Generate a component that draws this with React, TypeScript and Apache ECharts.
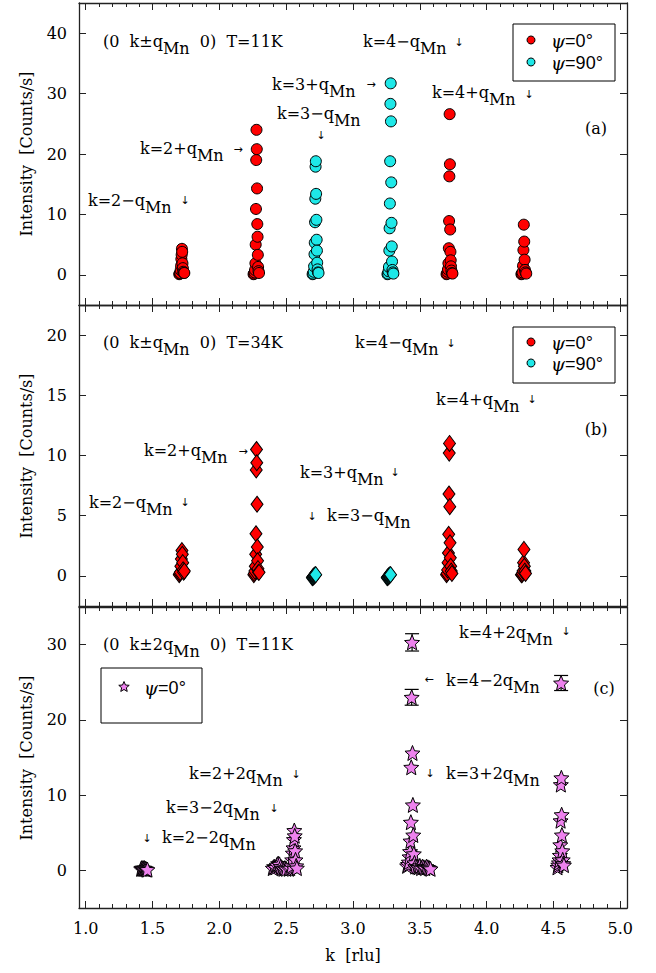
import React, { useEffect, useRef } from "react";
import * as echarts from "echarts";

// ---------- axes ----------
const kRange = [0.95, 5.05];
const xMajorTicks = [1.0, 1.5, 2.0, 2.5, 3.0, 3.5, 4.0, 4.5, 5.0];
const xMinorTicks = [
  1.1, 1.2, 1.3, 1.4, 1.6, 1.7, 1.8, 1.9, 2.1, 2.2, 2.3, 2.4, 2.6, 2.7, 2.8, 2.9,
  3.1, 3.2, 3.3, 3.4, 3.6, 3.7, 3.8, 3.9, 4.1, 4.2, 4.3, 4.4, 4.6, 4.7, 4.8, 4.9,
];
const yTicksA = [0, 10, 20, 30, 40];
const yTicksB = [0, 5, 10, 15, 20];
const yTicksC = [0, 10, 20, 30];
const yRangeA = [-5, 45];
const yRangeB = [-2.5, 22.5];
const yRangeC = [-5, 35];

// ---------- (a) (0 k±qMn 0) T=11K : [k, intensity] ----------
const a_psi0_2mq = [[1.700, 0.1], [1.704, 0.2], [1.708, 0.3], [1.711, 0.8], [1.714, 1.5], [1.716, 2.6], [1.718, 3.3], [1.720, 4.3], [1.722, 3.8], [1.724, 1.9], [1.727, 1.1], [1.730, 0.5], [1.734, 0.3], [1.738, 0.3]];
const a_psi0_2pq = [[2.256, 0.1], [2.260, 0.2], [2.264, 0.4], [2.267, 0.8], [2.270, 1.9], [2.272, 5.0], [2.274, 10.9], [2.276, 19.0], [2.278, 24.0], [2.280, 20.8], [2.282, 14.3], [2.284, 8.4], [2.286, 6.3], [2.288, 3.3], [2.290, 1.3], [2.293, 0.6], [2.297, 0.3]];
const a_psi90_3mq = [[2.698, 0.1], [2.702, 0.2], [2.706, 0.5], [2.709, 1.4], [2.712, 3.4], [2.714, 5.3], [2.716, 8.7], [2.718, 12.6], [2.720, 17.9], [2.722, 18.8], [2.724, 13.4], [2.726, 9.1], [2.728, 5.8], [2.730, 4.0], [2.732, 2.0], [2.735, 0.9], [2.738, 0.4], [2.742, 0.3]];
const a_psi90_3pq = [[3.258, 0.1], [3.262, 0.2], [3.266, 0.6], [3.269, 1.3], [3.272, 4.0], [3.274, 7.7], [3.276, 11.8], [3.278, 18.8], [3.280, 28.3], [3.282, 31.7], [3.284, 25.4], [3.286, 15.3], [3.288, 8.6], [3.290, 4.7], [3.292, 2.2], [3.295, 0.8], [3.298, 0.4], [3.302, 0.2]];
const a_psi0_4mq = [[3.700, 0.1], [3.704, 0.2], [3.708, 0.5], [3.711, 0.9], [3.714, 1.9], [3.717, 4.4], [3.719, 8.9], [3.721, 16.3], [3.723, 26.6], [3.725, 18.3], [3.727, 7.5], [3.729, 3.8], [3.731, 2.4], [3.733, 1.4], [3.736, 0.7], [3.740, 0.3], [3.744, 0.2]];
const a_psi0_4pq = [[4.260, 0.1], [4.264, 0.2], [4.268, 0.4], [4.272, 1.5], [4.275, 4.1], [4.278, 8.3], [4.281, 5.5], [4.284, 2.5], [4.287, 0.8], [4.291, 0.4], [4.296, 0.2]];

// ---------- (b) (0 k±qMn 0) T=34K ----------
const b_psi0_2mq = [[1.700, 0.1], [1.704, 0.2], [1.708, 0.3], [1.712, 0.8], [1.716, 1.4], [1.720, 2.1], [1.723, 1.8], [1.726, 1.1], [1.729, 0.5], [1.733, 0.3], [1.738, 0.4]];
const b_psi0_2pq = [[2.258, 0.1], [2.262, 0.2], [2.266, 0.4], [2.269, 0.8], [2.272, 1.8], [2.274, 3.5], [2.276, 8.8], [2.278, 10.5], [2.280, 9.4], [2.282, 5.95], [2.284, 2.4], [2.286, 1.25], [2.289, 0.6], [2.293, 0.3], [2.297, 0.3]];
const b_psi90_3mq = [[2.696, -0.15], [2.699, -0.1], [2.702, -0.1], [2.705, -0.05], [2.708, 0.0], [2.711, 0.0], [2.714, 0.05], [2.717, 0.1], [2.721, 0.1]];
const b_psi90_3pq = [[3.256, -0.15], [3.259, -0.1], [3.262, -0.1], [3.265, -0.05], [3.268, 0.0], [3.271, 0.0], [3.274, 0.05], [3.277, 0.1], [3.281, 0.1]];
const b_psi0_4mq = [[3.700, 0.1], [3.704, 0.2], [3.708, 0.5], [3.711, 1.1], [3.714, 1.9], [3.716, 3.45], [3.718, 6.8], [3.720, 10.2], [3.722, 11.0], [3.724, 5.75], [3.726, 2.75], [3.728, 1.5], [3.731, 0.8], [3.735, 0.4], [3.740, 0.2]];
const b_psi0_4pq = [[4.260, 0.1], [4.264, 0.1], [4.268, 0.2], [4.272, 0.4], [4.276, 1.1], [4.279, 2.2], [4.282, 0.8], [4.286, 0.4], [4.291, 0.2]];

// ---------- (c) (0 k±2qMn 0) T=11K ----------
const c_psi0_2m2q = [[1.415, 0.2], [1.420, 0.3], [1.425, 0.2], [1.430, 0.3], [1.435, 0.2], [1.440, 0.3], [1.445, 0.2], [1.450, 0.2], [1.455, 0.1], [1.462, 0.1]];
const c_psi0_3m2q = [[2.400, 0.3], [2.410, 0.5], [2.420, 0.4], [2.430, 0.7], [2.440, 0.9], [2.450, 0.8], [2.460, 0.5], [2.470, 0.3], [2.480, 0.2], [2.490, 0.3], [2.500, 0.2]];
const c_psi0_2p2q = [[2.520, 0.2], [2.530, 0.3], [2.540, 0.6], [2.545, 1.4], [2.550, 2.3], [2.555, 3.0], [2.558, 4.1], [2.561, 5.3], [2.564, 4.6], [2.567, 2.6], [2.570, 1.4], [2.575, 0.6], [2.580, 0.3]];
const c_psi0_4m2q = [[3.405, 0.6], [3.412, 0.8], [3.418, 1.1], [3.423, 1.8], [3.427, 2.5], [3.430, 3.9], [3.433, 6.4], [3.436, 13.7], [3.439, 23.0], [3.442, 30.3], [3.445, 15.6], [3.448, 8.7], [3.451, 4.7], [3.455, 2.2], [3.460, 1.0], [3.466, 0.5]];
const c_psi0_3p2q = [[3.480, 0.5], [3.490, 0.4], [3.500, 0.6], [3.510, 0.3], [3.520, 0.5], [3.530, 0.4], [3.540, 0.3], [3.550, 0.5], [3.560, 0.4], [3.570, 0.3], [3.580, 0.2]];
const c_psi0_4p2q = [[4.530, 0.4], [4.536, 0.7], [4.541, 1.0], [4.545, 1.4], [4.548, 2.0], [4.551, 3.4], [4.553, 6.6], [4.555, 11.4], [4.557, 24.9], [4.559, 12.3], [4.561, 7.4], [4.563, 4.7], [4.566, 2.6], [4.569, 1.4], [4.573, 0.9], [4.578, 0.7]];
// [k, intensity, error]
const c_errorBars = [[3.442, 30.3, 1.15], [3.439, 23.0, 1.05], [4.557, 24.9, 1.0]];

// ---------- styling ----------
const SERIF = "'DejaVu Serif', 'Liberation Serif', serif";
const SANS = "'Liberation Sans', Arial, sans-serif";
const RED = "#ff0000";
const CYAN = "#1ee8e8";
const VIOLET = "#ee82ee";
const FRAME = "#222";

const STAR_PTS = [
  [0, -10], [2.645, -3.641], [9.511, -3.09], [4.28, 1.391], [5.878, 8.09],
  [0, 4.5], [-5.878, 8.09], [-4.28, 1.391], [-9.511, -3.09], [-2.645, -3.641],
];
const STAR_PATH =
  "path://M" + STAR_PTS.map((p) => p[0] + "," + p[1]).join(" L") + " Z";

const GRIDS = [
  { left: 79, top: 3, width: 548, height: 302 },
  { left: 79, top: 305, width: 548, height: 301 },
  { left: 79, top: 607, width: 548, height: 301 },
];

function xAxesFor(gi: number, showLabels: boolean) {
  const base: any = {
    type: "value",
    gridIndex: gi,
    min: kRange[0],
    max: kRange[1],
    splitLine: { show: false },
    axisLine: { show: true, onZero: false, lineStyle: { color: FRAME, width: 1.3 } },
    axisLabel: { show: false },
    silent: true,
  };
  const major = { show: true, inside: true, length: 7, customValues: xMajorTicks, lineStyle: { color: FRAME, width: 1 } };
  const minor = { show: true, inside: true, length: 4, customValues: xMinorTicks, lineStyle: { color: FRAME, width: 1 } };
  const bottom: any = {
    ...base,
    position: "bottom",
    axisTick: major,
    axisLabel: {
      show: showLabels,
      customValues: xMajorTicks,
      formatter: (v: number) => v.toFixed(1),
      margin: 12,
      fontFamily: SERIF,
      fontSize: 16,
      color: "#000",
    },
  };
  if (showLabels) {
    bottom.name = "k  [rlu]";
    bottom.nameLocation = "middle";
    bottom.nameGap = 39;
    bottom.nameTextStyle = { fontFamily: SERIF, fontSize: 16, color: "#000" };
  }
  return [
    bottom,
    { ...base, position: "bottom", axisLine: { show: false, onZero: false }, axisTick: minor },
    { ...base, position: "top", axisTick: major },
    { ...base, position: "top", axisLine: { show: false, onZero: false }, axisTick: minor },
  ];
}

function yAxesFor(gi: number, range: number[], ticks: number[]) {
  const base: any = {
    type: "value",
    gridIndex: gi,
    min: range[0],
    max: range[1],
    splitLine: { show: false },
    axisLine: { show: true, onZero: false, lineStyle: { color: FRAME, width: 1.3 } },
    axisTick: { show: true, inside: true, length: 7, customValues: ticks, lineStyle: { color: FRAME, width: 1 } },
    silent: true,
  };
  return [
    {
      ...base,
      position: "left",
      axisLabel: { show: true, customValues: ticks, margin: 12, fontFamily: SERIF, fontSize: 16, color: "#000" },
    },
    { ...base, position: "right", axisLabel: { show: false } },
  ];
}

function scatter(data: number[][], xi: number, yi: number, symbol: any, size: any, color: string) {
  return {
    type: "scatter",
    xAxisIndex: xi,
    yAxisIndex: yi,
    data,
    symbol,
    symbolSize: size,
    itemStyle: { color, borderColor: "#000", borderWidth: 1, opacity: 1 },
    emphasis: { disabled: true },
    silent: true,
  };
}

const rich = {
  n: { fontFamily: SERIF, fontSize: 16, lineHeight: 18, verticalAlign: "top", fill: "#000" },
  s: { fontFamily: SERIF, fontSize: 16, lineHeight: 18, verticalAlign: "top", padding: [7, 0, 0, 0], fill: "#000" },
};

function ann(x: number, y: number, text: string) {
  return {
    type: "text",
    x,
    y,
    silent: true,
    style: { text, rich, fill: "#000", align: "left", verticalAlign: "top", fontFamily: SERIF, fontSize: 16 },
  };
}
function arrow(x: number, y: number, ch: string) {
  return {
    type: "text",
    x,
    y,
    silent: true,
    style: { text: ch, fill: "#000", align: "center", verticalAlign: "middle", fontFamily: "'DejaVu Sans', sans-serif", fontSize: 11 },
  };
}
function plain(x: number, y: number, text: string, rotation = 0) {
  return {
    type: "text",
    x,
    y,
    rotation,
    silent: true,
    style: { text, fill: "#000", align: "center", verticalAlign: "middle", fontFamily: SERIF, fontSize: 16 },
  };
}
const legendRich = {
  p: { fontFamily: SERIF, fontStyle: "italic", fontSize: 18, fill: "#000" },
  t: { fontFamily: SANS, fontSize: 18, fill: "#000" },
};
function legendText(x: number, y: number, text: string) {
  return {
    type: "text",
    x,
    y,
    silent: true,
    style: { text, rich: legendRich, fill: "#000", align: "left", verticalAlign: "middle" },
  };
}
function legendBox(x: number, y: number, w: number, h: number) {
  return {
    type: "rect",
    silent: true,
    shape: { x, y, width: w, height: h },
    style: { fill: "#fff", stroke: "#000", lineWidth: 1 },
  };
}
function legendCircle(cx: number, cy: number, color: string) {
  return { type: "circle", silent: true, shape: { cx, cy, r: 4 }, style: { fill: color, stroke: "#000", lineWidth: 1 } };
}
function legendStar(cx: number, cy: number) {
  return {
    type: "polygon",
    silent: true,
    shape: { points: STAR_PTS.map((p) => [cx + p[0] * 0.55, cy + p[1] * 0.55]) },
    style: { fill: VIOLET, stroke: "#000", lineWidth: 1 },
  };
}

function buildOption() {
  const xAxis = [...xAxesFor(0, false), ...xAxesFor(1, false), ...xAxesFor(2, true)];
  const yAxis = [...yAxesFor(0, yRangeA, yTicksA), ...yAxesFor(1, yRangeB, yTicksB), ...yAxesFor(2, yRangeC, yTicksC)];
  const circ = "circle";
  const dia = "diamond";
  const series: any[] = [
    scatter(a_psi0_2mq, 0, 0, circ, 11, RED),
    scatter(a_psi0_2pq, 0, 0, circ, 11, RED),
    scatter(a_psi90_3mq, 0, 0, circ, 11, CYAN),
    scatter(a_psi90_3pq, 0, 0, circ, 11, CYAN),
    scatter(a_psi0_4mq, 0, 0, circ, 11, RED),
    scatter(a_psi0_4pq, 0, 0, circ, 11, RED),

    scatter(b_psi0_2mq, 4, 2, dia, [12, 16], RED),
    scatter(b_psi0_2pq, 4, 2, dia, [12, 16], RED),
    scatter(b_psi90_3mq, 4, 2, dia, [12, 16], CYAN),
    scatter(b_psi90_3pq, 4, 2, dia, [12, 16], CYAN),
    scatter(b_psi0_4mq, 4, 2, dia, [12, 16], RED),
    scatter(b_psi0_4pq, 4, 2, dia, [12, 16], RED),

    {
      type: "custom",
      xAxisIndex: 8,
      yAxisIndex: 4,
      data: c_errorBars,
      silent: true,
      renderItem: (params: any, api: any) => {
        const k = api.value(0);
        const v = api.value(1);
        const e = api.value(2);
        const top = api.coord([k, v + e]);
        const bot = api.coord([k, v - e]);
        const hw = 7;
        const st = { stroke: "#000", lineWidth: 1.2 };
        return {
          type: "group",
          children: [
            { type: "line", shape: { x1: top[0], y1: top[1], x2: bot[0], y2: bot[1] }, style: st },
            { type: "line", shape: { x1: top[0] - hw, y1: top[1], x2: top[0] + hw, y2: top[1] }, style: st },
            { type: "line", shape: { x1: bot[0] - hw, y1: bot[1], x2: bot[0] + hw, y2: bot[1] }, style: st },
          ],
        };
      },
    },
    scatter(c_psi0_2m2q, 8, 4, STAR_PATH, 15, VIOLET),
    scatter(c_psi0_3m2q, 8, 4, STAR_PATH, 15, VIOLET),
    scatter(c_psi0_2p2q, 8, 4, STAR_PATH, 15, VIOLET),
    scatter(c_psi0_4m2q, 8, 4, STAR_PATH, 15, VIOLET),
    scatter(c_psi0_3p2q, 8, 4, STAR_PATH, 15, VIOLET),
    scatter(c_psi0_4p2q, 8, 4, STAR_PATH, 15, VIOLET),
  ];

  const graphic: any[] = [
    // y-axis names
    plain(26, 154, "Intensity  [Counts/s]", Math.PI / 2),
    plain(26, 456, "Intensity  [Counts/s]", Math.PI / 2),
    plain(26, 758, "Intensity  [Counts/s]", Math.PI / 2),

    // ----- panel (a)
    ann(103, 33, "{n|(0  k±q}{s|Mn}{n|  0)  T=11K}"),
    ann(363, 33, "{n|k=4−q}{s|Mn}"),
    arrow(459, 42, "↓"),
    ann(272, 76, "{n|k=3+q}{s|Mn}"),
    arrow(371, 84, "→"),
    ann(432, 84, "{n|k=4+q}{s|Mn}"),
    arrow(529, 94, "↓"),
    ann(277, 105, "{n|k=3−q}{s|Mn}"),
    arrow(321, 135, "↓"),
    ann(140, 140, "{n|k=2+q}{s|Mn}"),
    arrow(238, 149, "→"),
    ann(88, 192, "{n|k=2−q}{s|Mn}"),
    arrow(185, 200, "↓"),
    plain(596, 128, "(a)"),
    legendBox(513, 24, 102, 57),
    legendCircle(531, 40, RED),
    legendText(551, 41, "{p|ψ}{t|=0°}"),
    legendCircle(531, 62, CYAN),
    legendText(551, 63, "{p|ψ}{t|=90°}"),

    // ----- panel (b)
    ann(103, 334, "{n|(0  k±q}{s|Mn}{n|  0)  T=34K}"),
    ann(355, 334, "{n|k=4−q}{s|Mn}"),
    arrow(451, 343, "↓"),
    ann(436, 391, "{n|k=4+q}{s|Mn}"),
    arrow(532, 399, "↓"),
    plain(596, 429, "(b)"),
    ann(144, 442, "{n|k=2+q}{s|Mn}"),
    arrow(243, 451, "→"),
    ann(300, 464, "{n|k=3+q}{s|Mn}"),
    arrow(395, 472, "↓"),
    ann(89, 494, "{n|k=2−q}{s|Mn}"),
    arrow(185, 502, "↓"),
    arrow(312, 516, "↓"),
    ann(327, 507, "{n|k=3−q}{s|Mn}"),
    legendBox(513, 327, 102, 56),
    legendCircle(531, 342, RED),
    legendText(551, 343, "{p|ψ}{t|=0°}"),
    legendCircle(531, 363, CYAN),
    legendText(551, 364, "{p|ψ}{t|=90°}"),

    // ----- panel (c)
    ann(103, 636, "{n|(0  k±2q}{s|Mn}{n|  0)  T=11K}"),
    ann(459, 624, "{n|k=4+2q}{s|Mn}"),
    arrow(566, 631, "↓"),
    arrow(429, 679, "←"),
    ann(446, 672, "{n|k=4−2q}{s|Mn}"),
    plain(604, 688, "(c)"),
    arrow(430, 773, "↓"),
    ann(446, 765, "{n|k=3+2q}{s|Mn}"),
    ann(189, 765, "{n|k=2+2q}{s|Mn}"),
    arrow(296, 774, "↓"),
    ann(166, 799, "{n|k=3−2q}{s|Mn}"),
    arrow(274, 808, "↓"),
    arrow(147, 838, "↓"),
    ann(162, 829, "{n|k=2−2q}{s|Mn}"),
    legendBox(101, 668, 101, 55),
    legendStar(124, 687),
    legendText(144, 688, "{p|ψ}{t|=0°}"),
  ];

  return {
    animation: false,
    backgroundColor: "#fff",
    grid: GRIDS,
    xAxis,
    yAxis,
    series,
    graphic,
  };
}

export default function App() {
  const ref = useRef<HTMLDivElement>(null);
  useEffect(() => {
    if (!ref.current) return;
    const chart = echarts.init(ref.current, undefined, { renderer: "svg" });
    chart.setOption(buildOption() as any);
    return () => chart.dispose();
  }, []);
  return (
    <div
      ref={ref}
      style={{ position: "absolute", left: 0, top: 0, width: 656, height: 973, background: "#fff" }}
    />
  );
}
